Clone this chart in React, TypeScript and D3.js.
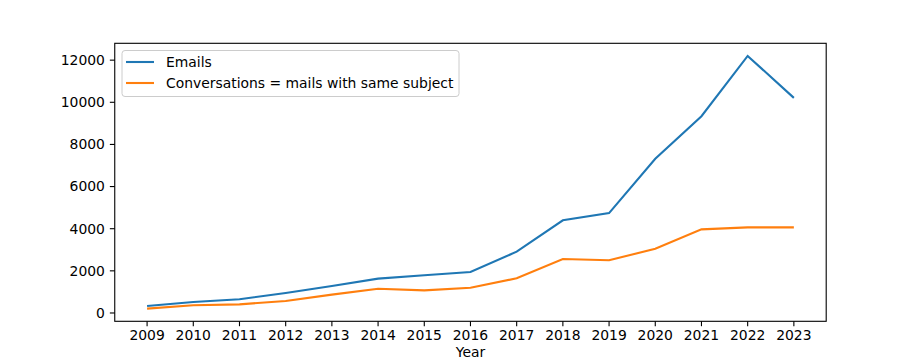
import React, { useEffect, useRef } from 'react';
import * as d3 from 'd3';

const years = [2009, 2010, 2011, 2012, 2013, 2014, 2015, 2016, 2017, 2018, 2019, 2020, 2021, 2022, 2023];
const emails = [330, 520, 650, 950, 1280, 1630, 1790, 1945, 2910, 4400, 4740, 7320, 9340, 12200, 10210];
const conversations = [205, 365, 410, 570, 870, 1150, 1075, 1200, 1645, 2560, 2500, 3050, 3970, 4065, 4065];
const yTicks = [0, 2000, 4000, 6000, 8000, 10000, 12000];

const App = () => {
    const ref = useRef<SVGSVGElement>(null);

    useEffect(() => {
        drawChart();
    }, []);

    const drawChart = () => {
        const W = 918, H = 361;
        const margin = { top: 43.3, right: 91.8, bottom: 39.7, left: 114.75 };
        const font = 'DejaVu Sans, sans-serif';
        const fs = 13.9;

        const svg = d3.select(ref.current);
        svg.selectAll('*').remove();
        svg.attr('width', W).attr('height', H);

        svg.append('rect').attr('width', W).attr('height', H).style('fill', 'white');

        const x0 = margin.left, x1 = W - margin.right;
        const y0 = margin.top, y1 = H - margin.bottom;

        // matplotlib style autoscale: 5% margins on the data range
        const x = d3.scaleLinear().domain([2009 - 0.7, 2023 + 0.7]).range([x0, x1]);
        const lo = Math.min(d3.min(conversations)!, d3.min(emails)!);
        const hi = d3.max(emails)!;
        const pad = (hi - lo) * 0.05;
        const y = d3.scaleLinear().domain([lo - pad, hi + pad]).range([y1, y0]);

        const line = d3.line<number>()
            .x((d, i) => x(years[i]))
            .y(d => y(d));

        svg.append('path')
            .datum(emails)
            .attr('d', line)
            .attr('fill', 'none')
            .attr('stroke', '#1f77b4')
            .attr('stroke-width', 2.1);

        svg.append('path')
            .datum(conversations)
            .attr('d', line)
            .attr('fill', 'none')
            .attr('stroke', '#ff7f0e')
            .attr('stroke-width', 2.1);

        // x ticks
        const xt = svg.append('g');
        years.forEach(yr => {
            xt.append('line')
                .attr('x1', x(yr)).attr('x2', x(yr))
                .attr('y1', y1).attr('y2', y1 + 4.9)
                .attr('stroke', 'black').attr('stroke-width', 1.1);
            xt.append('text')
                .attr('x', x(yr)).attr('y', y1 + 18.5)
                .attr('text-anchor', 'middle')
                .style('font-family', font).style('font-size', fs + 'px')
                .text(yr);
        });

        // y ticks
        const yt = svg.append('g');
        yTicks.forEach(v => {
            yt.append('line')
                .attr('x1', x0 - 4.9).attr('x2', x0)
                .attr('y1', y(v)).attr('y2', y(v))
                .attr('stroke', 'black').attr('stroke-width', 1.1);
            yt.append('text')
                .attr('x', x0 - 9.8).attr('y', y(v))
                .attr('dy', '0.35em')
                .attr('text-anchor', 'end')
                .style('font-family', font).style('font-size', fs + 'px')
                .text(v);
        });

        // frame
        svg.append('rect')
            .attr('x', x0).attr('y', y0)
            .attr('width', x1 - x0).attr('height', y1 - y0)
            .attr('fill', 'none').attr('stroke', 'black').attr('stroke-width', 1.1);

        // axis label sits at the very bottom edge, as in the reference
        svg.append('text')
            .attr('x', (x0 + x1) / 2).attr('y', H - 3.8)
            .attr('text-anchor', 'middle')
            .style('font-family', font).style('font-size', fs + 'px')
            .text('Year');

        // legend
        const lg = svg.append('g');
        lg.append('rect')
            .attr('x', 122).attr('y', 50.5)
            .attr('width', 337).attr('height', 46)
            .attr('rx', 3)
            .attr('fill', 'white').attr('fill-opacity', 0.8)
            .attr('stroke', '#cccccc').attr('stroke-width', 1);
        const items = [
            { label: 'Emails', color: '#1f77b4' },
            { label: 'Conversations = mails with same subject', color: '#ff7f0e' },
        ];
        items.forEach((it, i) => {
            const cy = 62 + i * 21;
            lg.append('line')
                .attr('x1', 126).attr('x2', 154)
                .attr('y1', cy).attr('y2', cy)
                .attr('stroke', it.color).attr('stroke-width', 2.1);
            lg.append('text')
                .attr('x', 166).attr('y', cy)
                .attr('dy', '0.35em')
                .style('font-family', font).style('font-size', fs + 'px')
                .text(it.label);
        });
    };

    return <svg ref={ref} style={{ position: 'absolute', left: 0, top: 0 }}></svg>;
};

export default App;
